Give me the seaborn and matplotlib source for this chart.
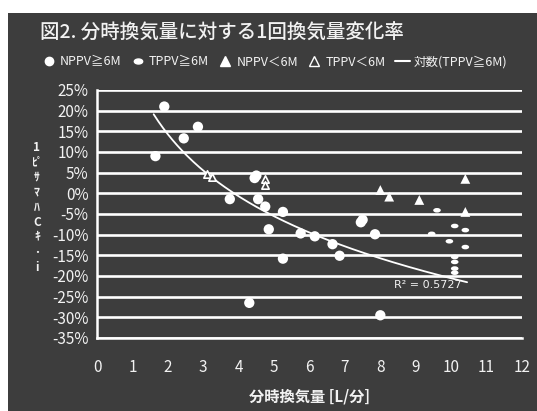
import numpy as np
import pandas as pd
import matplotlib
matplotlib.use("Agg")
import matplotlib.pyplot as plt
from matplotlib.path import Path
from matplotlib.transforms import Affine2D
from matplotlib.lines import Line2D
import matplotlib.ticker as mticker
import seaborn as sns

# data (x: L/min, y: %)
nppv_hi_x = [1.65, 1.9, 2.45, 2.85, 3.75, 4.45, 4.5, 4.55, 4.75, 4.85, 5.25, 5.25,
             5.75, 6.15, 6.65, 6.85, 7.45, 7.5, 7.85, 4.3, 8.0]
nppv_hi_y = [9.0, 21.0, 13.3, 16.1, -1.4, 3.7, 4.3, -1.4, -3.2, -8.7, -4.5, -15.8,
             -9.7, -10.4, -12.3, -15.1, -7.0, -6.4, -9.9, -26.5, -29.5]
tppv_hi_x = [9.6, 9.45, 10.1, 10.4, 9.95, 10.4, 10.1, 10.1, 10.1, 10.1]
tppv_hi_y = [-4.1, -9.8, -7.9, -8.9, -11.6, -13.0, -15.4, -16.6, -18.2, -19.2]
nppv_lo_x = [8.0, 8.25, 9.1, 10.4, 10.4]
nppv_lo_y = [0.8, -0.8, -1.6, 3.5, -4.5]
tppv_lo_x = [3.1, 3.25, 4.75, 4.75]
tppv_lo_y = [4.6, 3.9, 3.4, 2.0]

# logarithmic trend line: y = a*ln(x) + b
fit_a, fit_b = -21.65, 29.3
fit_x_range = (1.6, 10.45)
r2_label = "R² = 0.5727"

x_ticks = list(range(0, 13))
y_ticks = list(range(-35, 30, 5))

bg = "#3d3d3d"
fg = "#f2f2f2"

sns.set_theme(style="white")
plt.rcParams["font.family"] = ["Noto Sans CJK JP", "DejaVu Sans"]

fig = plt.figure(figsize=(5.37, 4.11), dpi=100, facecolor="white")
fig.patches.append(plt.Rectangle((8 / 537, 0), 1, 1 - 13 / 411, transform=fig.transFigure,
                                 facecolor=bg, edgecolor="none", zorder=-10))
ax = fig.add_axes([97 / 537, 1 - 338 / 411, 425 / 537, 248 / 411])
ax.set_facecolor(bg)

ellipse = Path.unit_circle().transformed(Affine2D().scale(1.0, 0.6))

sns.scatterplot(x=nppv_hi_x, y=nppv_hi_y, ax=ax, marker="o", s=55, color="white",
                edgecolor="none", zorder=4)
sns.scatterplot(x=tppv_hi_x, y=tppv_hi_y, ax=ax, marker=ellipse, s=30, color="white",
                edgecolor="none", zorder=4)
sns.scatterplot(x=nppv_lo_x, y=nppv_lo_y, ax=ax, marker="^", s=50, color="white",
                edgecolor="none", zorder=4)
sns.scatterplot(x=tppv_lo_x, y=tppv_lo_y, ax=ax, marker="^", s=28, color=bg,
                edgecolor="white", linewidth=1.2, zorder=4)

fx = np.linspace(fit_x_range[0], fit_x_range[1], 200)
curve = pd.DataFrame({"x": fx, "y": fit_a * np.log(fx) + fit_b})
sns.lineplot(data=curve, x="x", y="y", ax=ax, color="white", linewidth=1.3, zorder=3)
ax.text(8.4, -22.2, r2_label, color=fg, fontsize=8, ha="left", va="center",
        family=["DejaVu Sans"])

ax.set_xlim(0, 12)
ax.set_ylim(-35, 25)
ax.set_xticks(x_ticks)
ax.set_yticks(y_ticks)
ax.yaxis.set_major_formatter(mticker.FuncFormatter(lambda v, p: f"{int(round(v))}%"))
for y in y_ticks:
    ax.axhline(y, color="white", linewidth=1.9, zorder=1)
for s in ["top", "right"]:
    ax.spines[s].set_visible(False)
for s in ["left", "bottom"]:
    ax.spines[s].set_color("white")
    ax.spines[s].set_linewidth(1.8)
ax.tick_params(axis="both", colors="white", direction="out", length=4, width=1.3,
               labelsize=11, labelcolor=fg, pad=2)
ax.tick_params(axis="x", pad=11)
ax.set_xlabel("分時換気量 [L/分]", color=fg, fontsize=11, fontweight="bold", labelpad=9)
ax.set_ylabel("")

fig.text(40 / 537, 1 - 33 / 411, "図2. 分時換気量に対する1回換気量変化率", color=fg,
         fontsize=14, fontweight="medium", ha="left", va="center")
fig.text(37 / 537, 1 - 207 / 411, "1\nﾋﾟ\nｻ\nﾏ\nﾊ\nC\nｷ\n･\ni", color=fg, fontsize=8.5,
         fontweight="bold", ha="center", va="center", linespacing=1.2)

handles = [
    Line2D([], [], linestyle="none", marker="o", markersize=6, markerfacecolor="white",
           markeredgecolor="white"),
    Line2D([], [], linestyle="none", marker=ellipse, markersize=6, markerfacecolor="white",
           markeredgecolor="white"),
    Line2D([], [], linestyle="none", marker="^", markersize=7, markerfacecolor="white",
           markeredgecolor="white"),
    Line2D([], [], linestyle="none", marker="^", markersize=7, markerfacecolor=bg,
           markeredgecolor="white"),
    Line2D([], [], color="white", linewidth=1.5),
]
labels = ["NPPV≧6M", "TPPV≧6M", "NPPV＜6M", "TPPV＜6M", "対数(TPPV≧6M)"]
fig.legend(handles, labels, loc="center left", bbox_to_anchor=(36 / 537, 1 - 62 / 411),
           ncol=5, frameon=False, fontsize=9, labelcolor=fg, handlelength=1.2,
           handletextpad=0.3, columnspacing=0.7, borderaxespad=0)

fig.savefig("out.png", dpi=100, facecolor="white")
